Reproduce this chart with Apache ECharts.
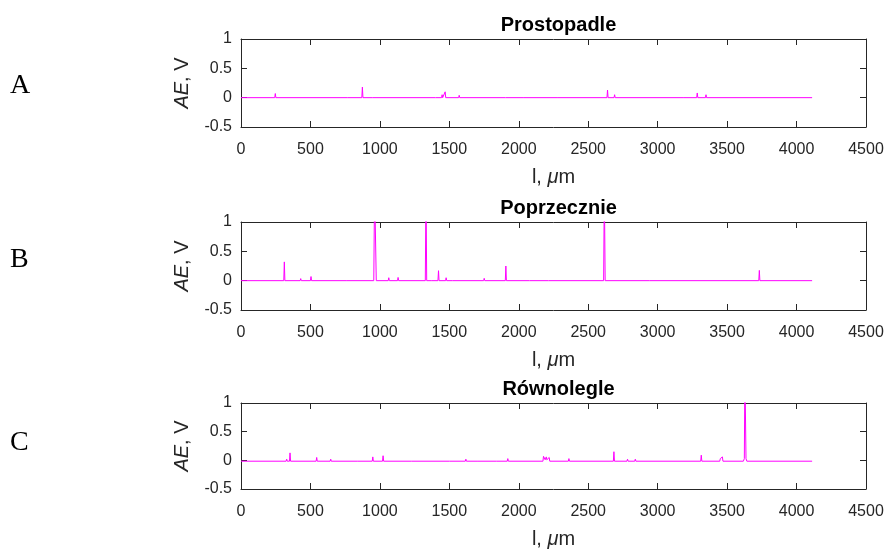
<!DOCTYPE html>
<html>
<head>
<meta charset="utf-8">
<script src="https://cdn.jsdelivr.net/npm/echarts@6/dist/echarts.min.js"></script>
<style>html,body{margin:0;padding:0;background:#fff}#c{width:888px;height:550px}</style>
</head>
<body>
<div id="c"></div>
<script>
// Panel titles and labels
const panelTitles = ['Prostopadle', 'Poprzecznie', 'Równolegle'];
const panelLetters = ['A', 'B', 'C'];
const xTickValues = [0, 500, 1000, 1500, 2000, 2500, 3000, 3500, 4000, 4500];
const yTickValues = [-0.5, 0, 0.5, 1];

// Panel A: Prostopadle
const aX = [0, 243, 247, 251, 769, 773, 777, 870, 874, 878, 949, 953, 957, 1401, 1405, 1409, 1444, 1448, 1452, 1466, 1470, 1474, 1567, 1571, 1575, 1905, 1909, 1913, 2037, 2041, 2045, 2282, 2286, 2290, 2635, 2639, 2643, 2686, 2690, 2694, 3183, 3187, 3191, 3281, 3285, 3289, 3344, 3348, 3352, 4112];
const aY = [0, 0, 0.07, 0, 0, 0.03, 0, 0, 0.18, 0, 0, 0.02, 0, 0, 0.03, 0, 0, 0.05, 0, 0, 0.10, 0, 0, 0.04, 0, 0, 0.02, 0, 0, 0.03, 0, 0, 0.02, 0, 0, 0.13, 0, 0, 0.05, 0, 0, 0.02, 0, 0, 0.08, 0, 0, 0.05, 0, 0];

// Panel B: Poprzecznie
const bX = [0, 308, 312, 316, 426, 430, 434, 500, 504, 508, 757, 761, 765, 956, 962, 968, 974, 1060, 1064, 1068, 1127, 1131, 1135, 1327, 1332, 1337, 1374, 1378, 1382, 1418, 1422, 1426, 1473, 1477, 1481, 1521, 1525, 1529, 1747, 1751, 1755, 1903, 1907, 1911, 2078, 2082, 2086, 2215, 2219, 2223, 2611, 2616, 2622, 2943, 2947, 2951, 3728, 3732, 3736, 4112];
const bY = [0, 0, 0.32, 0, 0, 0.035, 0, 0, 0.07, 0, 0, 0.02, 0, 0, 1.6, 1.6, 0, 0, 0.05, 0, 0, 0.055, 0, 0, 1.6, 0, 0, 0.02, 0, 0, 0.17, 0, 0, 0.05, 0, 0, 0.03, 0, 0, 0.04, 0, 0, 0.25, 0, 0, 0.01, 0, 0, 0.02, 0, 0, 1.6, 0, 0, 0.01, 0, 0, 0.175, 0, 0];

// Panel C: Równolegle
const cX = [0, 325, 329, 333, 349, 353, 357, 541, 545, 549, 642, 646, 650, 841, 845, 849, 945, 949, 953, 1019, 1023, 1027, 1226, 1230, 1234, 1502, 1506, 1510, 1615, 1619, 1623, 1706, 1710, 1714, 1838, 1842, 1846, 1917, 1921, 1925, 2174, 2178, 2183, 2190, 2198, 2202, 2210, 2219, 2223, 2357, 2361, 2365, 2681, 2685, 2689, 2779, 2783, 2787, 2835, 2839, 2843, 3310, 3314, 3318, 3447, 3451, 3466, 3470, 3617, 3624, 3628, 3632, 3636, 3642, 4112];
const cY = [-0.015, -0.015, 0.02, -0.015, -0.015, 0.13, -0.015, -0.015, 0.05, -0.015, -0.015, 0.02, -0.015, -0.015, 0.01, -0.015, -0.015, 0.06, -0.015, -0.015, 0.08, -0.015, -0.015, 0.01, -0.015, -0.015, 0.01, -0.015, -0.015, 0.02, -0.015, -0.015, 0.01, -0.015, -0.015, 0.01, -0.015, -0.015, 0.03, -0.015, -0.015, 0.07, 0.08, 0.01, 0.06, 0.01, 0.01, 0.05, -0.015, -0.015, 0.03, -0.015, -0.015, 0.15, -0.015, -0.015, 0.02, -0.015, -0.015, 0.02, -0.015, -0.015, 0.09, -0.015, -0.015, 0.03, 0.06, -0.015, -0.015, 0.03, 1.6, 1.6, 0.03, -0.015, -0.015];

const seriesX = [aX, bX, cX];
const seriesY = [aY, bY, cY];

const gridTops = [39, 222, 403];
const gridHeight = 88;
const gridLeft = 241;
const gridWidth = 625;
const axisColor = '#262626';
const fontFam = '"Liberation Sans", Arial, Helvetica, sans-serif';

const chart = echarts.init(document.getElementById('c'), null, {renderer: 'canvas'});

const grids = [], xAxes = [], yAxes = [], series = [], titles = [], graphics = [];
const letterY = [86, 260, 443];
const nameStyle = {color: axisColor, fontSize: 20, fontFamily: fontFam,
  rich: {i: {fontStyle: 'italic', fontSize: 20, fontFamily: fontFam, color: axisColor}}};

for (let i = 0; i < 3; i++) {
  grids.push({left: gridLeft, top: gridTops[i], width: gridWidth, height: gridHeight, containLabel: false});
  const common = {
    gridIndex: i, type: 'value', min: xTickValues[0], max: xTickValues[xTickValues.length - 1],
    interval: xTickValues[1] - xTickValues[0],
    splitLine: {show: false},
    axisLine: {show: true, onZero: false, lineStyle: {color: axisColor, width: 1}},
    axisTick: {show: true, inside: true, length: 6, lineStyle: {color: axisColor}}
  };
  xAxes.push(Object.assign({}, common, {
    position: 'bottom',
    axisLabel: {show: true, color: axisColor, fontSize: 16, fontFamily: fontFam, margin: 15,
      formatter: v => String(v)},
    name: 'l, {i|μ}m', nameLocation: 'middle', nameGap: 40,
    nameTextStyle: nameStyle
  }));
  xAxes.push(Object.assign({}, common, {position: 'top', axisLabel: {show: false}}));
  const ycommon = {
    gridIndex: i, type: 'value', min: yTickValues[0], max: yTickValues[yTickValues.length - 1],
    interval: yTickValues[1] - yTickValues[0],
    splitLine: {show: false},
    axisLine: {show: true, onZero: false, lineStyle: {color: axisColor, width: 1}},
    axisTick: {show: true, inside: true, length: 6, lineStyle: {color: axisColor}}
  };
  yAxes.push(Object.assign({}, ycommon, {
    position: 'left',
    axisLabel: {show: true, color: axisColor, fontSize: 16, fontFamily: fontFam, margin: 9,
      formatter: v => String(v)},
    name: '{i|AE}, V', nameLocation: 'middle', nameGap: 49,
    nameTextStyle: nameStyle
  }));
  yAxes.push(Object.assign({}, ycommon, {position: 'right', axisLabel: {show: false}}));

  const data = seriesX[i].map((x, k) => [x, seriesY[i][k]]);
  series.push({
    type: 'line', xAxisIndex: 2 * i, yAxisIndex: 2 * i, data: data,
    showSymbol: false, symbol: 'none', clip: true,
    lineStyle: {color: '#FF00FF', width: 1}, silent: true
  });

  titles.push({
    text: panelTitles[i], left: gridLeft + gridWidth / 2, top: gridTops[i] - 29, textAlign: 'center',
    textStyle: {fontSize: 20, fontWeight: 'bold', color: '#000', fontFamily: fontFam}
  });
  graphics.push({
    type: 'text', left: 10, top: letterY[i] - 14,
    style: {text: panelLetters[i], fontSize: 28, fontFamily: '"Liberation Serif", "Times New Roman", serif', fill: '#000'}
  });
}

chart.setOption({
  animation: false,
  backgroundColor: '#fff',
  title: titles,
  grid: grids,
  xAxis: xAxes,
  yAxis: yAxes,
  series: series,
  graphic: graphics
});
</script>
</body>
</html>
